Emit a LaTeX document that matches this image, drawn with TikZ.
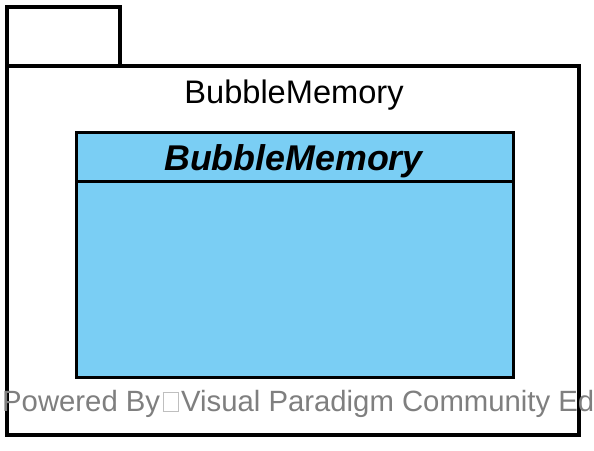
\documentclass[tikz,border=0pt]{standalone}
\usepackage{fontspec}
\setmainfont{Liberation Sans}
\usetikzlibrary{positioning}
\definecolor{classblue}{HTML}{7ACEF4}
\definecolor{markgray}{HTML}{7F7F7F}
\newcommand{\missingglyph}{\hspace{2.5pt}{\color{lightgray}\setlength{\fboxrule}{1pt}\setlength{\fboxsep}{0pt}\fbox{\rule{0pt}{18pt}\hspace{14pt}}}\hspace{2.5pt}}

\begin{document}
\begin{tikzpicture}[
  x=1pt, y=-1pt,
  pkgline/.style={draw=black, line width=3.2pt},
  clsline/.style={draw=black, line width=3pt},
]
\useasboundingbox (0,0) rectangle (594,450);
\clip (0,0) rectangle (594,450);

  % Package with its tab
  \draw[pkgline] (7,7) rectangle (120,66);
  \draw[pkgline, fill=white] (7,66) rectangle (579,435);
  \node[anchor=base, font=\fontsize{32.6}{38}\selectfont, inner sep=0] (pkgname) at (294,103) {BubbleMemory};

  % Class inside the package
  \draw[clsline, fill=classblue] (76,132) rectangle (513,377);
  \draw[clsline] (76,181) -- (513,181);
  \node[anchor=base, font=\fontsize{35.8}{42}\selectfont\bfseries\itshape, inner sep=0] (clsname) at (293.5,170) {BubbleMemory};

  % Watermark
  \node[anchor=base west, text=markgray, font=\fontsize{29.3}{35}\selectfont, inner sep=0] (mark) at (2,411)
    {Powered By\missingglyph Visual Paradigm Community Edition};
\end{tikzpicture}
\end{document}
